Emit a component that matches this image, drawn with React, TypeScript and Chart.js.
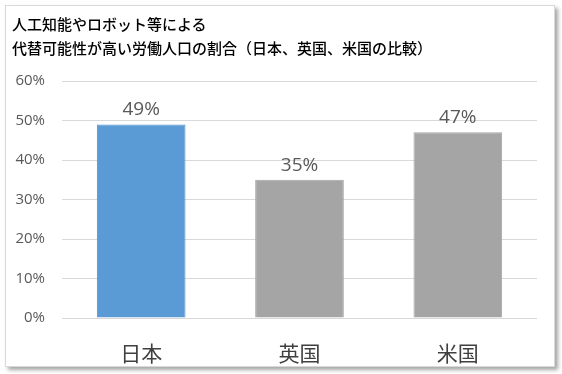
import React, { useEffect, useRef } from "react";
import { Chart, registerables } from "chart.js";

Chart.register(...registerables);

const titleLines = ["人工知能やロボット等による", "代替可能性が高い労働人口の割合（日本、英国、米国の比較）"];
const categories = ["日本", "英国", "米国"];
const values = [49, 35, 47];
const barColors = ["#5b9bd5", "#a5a5a5", "#a5a5a5"];
const yTicks = [0, 10, 20, 30, 40, 50, 60];

const dataLabelPlugin = {
  id: "dataLabels",
  afterDatasetsDraw(chart: any) {
    const ctx = chart.ctx;
    const meta = chart.getDatasetMeta(0);
    ctx.save();
    ctx.font = "19px 'Open Sans', 'Noto Sans', sans-serif";
    ctx.fillStyle = "#595959";
    ctx.textAlign = "center";
    ctx.textBaseline = "alphabetic";
    meta.data.forEach((bar: any, i: number) => {
      ctx.fillText(values[i] + "%", bar.x, bar.y - 9);
    });
    ctx.restore();
  },
};

export default function App() {
  const ref = useRef<HTMLCanvasElement>(null);
  useEffect(() => {
    if (!ref.current) return;
    const chart = new Chart(ref.current, {
      type: "bar",
      data: {
        labels: categories,
        datasets: [
          {
            data: values,
            backgroundColor: barColors,
            borderColor: barColors.map((c) => (c === "#5b9bd5" ? "#4f8fca" : c)),
            borderWidth: 1,
            barPercentage: 0.56,
            categoryPercentage: 1,
          },
        ],
      },
      options: {
        animation: false,
        responsive: false,
        maintainAspectRatio: false,
        layout: { padding: { top: 75, right: 17, bottom: 0, left: 0 } },
        plugins: {
          legend: { display: false },
          tooltip: { enabled: false },
          title: { display: false },
        },
        scales: {
          x: {
            grid: { display: false, drawTicks: false },
            border: { display: false },
            ticks: {
              color: "#404040",
              font: { size: 21, family: "'Noto Sans CJK JP', sans-serif" },
              padding: 22,
            },
            afterFit(scale: any) {
              scale.height = 48;
            },
          },
          y: {
            min: 0,
            max: 60,
            afterBuildTicks(scale: any) {
              scale.ticks = yTicks.map((v) => ({ value: v }));
            },
            grid: { color: "#d9d9d9", drawTicks: false, lineWidth: 1 },
            border: { display: false },
            ticks: {
              color: "#595959",
              font: { size: 15, family: "'Open Sans', 'Noto Sans', sans-serif" },
              padding: 17,
              callback: (v: any) => v + "%",
            },
            afterFit(scale: any) {
              scale.width = 56;
            },
          },
        },
      },
      plugins: [dataLabelPlugin],
    });
    return () => chart.destroy();
  }, []);

  return (
    <div style={{ position: "fixed", left: 0, top: 0, width: 562, height: 374, background: "#fff" }}>
      <div
        style={{
          position: "absolute",
          left: 5,
          top: 5,
          width: 550,
          height: 362,
          border: "1px solid #d9d9d9",
          boxSizing: "border-box",
          boxShadow: "3px 3px 4px rgba(0,0,0,0.35)",
          background: "#fff",
        }}
      >
        <canvas ref={ref} width={548} height={360} style={{ position: "absolute", left: 0, top: 0 }} />
        <div
          style={{
            position: "absolute",
            left: 6,
            top: 6,
            fontFamily: "'Noto Sans CJK JP', sans-serif",
            fontSize: 15,
            lineHeight: "24px",
            color: "#000",
            fontWeight: 500,
            whiteSpace: "nowrap",
          }}
        >
          {titleLines.map((l, i) => (
            <div key={i}>{l}</div>
          ))}
        </div>
      </div>
    </div>
  );
}
